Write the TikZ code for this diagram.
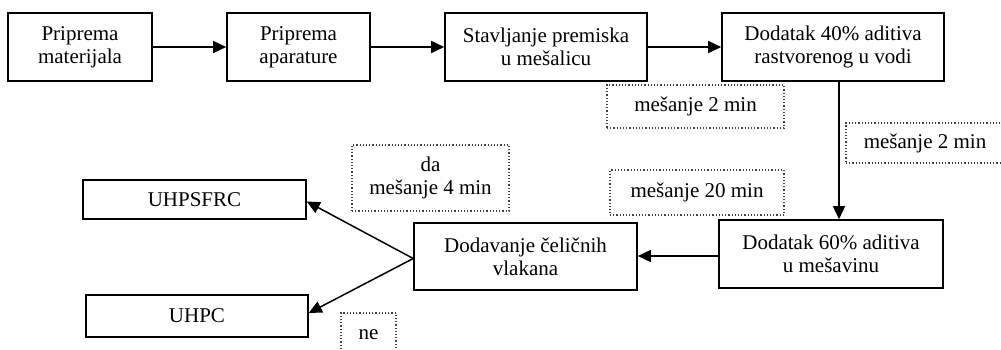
\documentclass[tikz,border=0pt]{standalone}
\usepackage{fontspec}
\setmainfont{Liberation Serif}
\usetikzlibrary{arrows.meta,positioning}

\begin{document}
\begin{tikzpicture}[x=0.5pt,y=-0.5pt,font=\fontsize{10.5}{11.6}\selectfont,box/.style={draw,line width=0.8pt,align=center,inner sep=0pt,minimum height=34pt},note/.style={draw=black!75,densely dotted,line width=0.6pt,align=center,inner sep=0pt},arr/.style={-{Triangle[length=6.5pt,width=6pt]},line width=0.75pt}]
\useasboundingbox (0,0) rectangle (1001,349);
\clip (0,0) rectangle (1001,349);
\node[box,minimum width=72pt] (mat) at (80,47) {Priprema\\materijala};
\node[box,minimum width=71.5pt] (apa) at (298.5,47) {Priprema\\aparature};
\node[box,minimum width=101pt] (pre) at (546,47) {Stavljanje premiska\\u mešalicu};
\node[box,minimum width=111pt] (ad40) at (833,47) {Dodatak 40\% aditiva\\rastvorenog u vodi};
\node[box,minimum width=112pt] (ad60) at (831,254) {Dodatak 60\% aditiva\\u mešavinu};
\node[box,minimum width=111.5pt,minimum height=33.5pt] (vla) at (525.5,256.5) {Dodavanje čeličnih\\vlakana};
\node[box,minimum width=111.5pt,minimum height=19.5pt] (frc) at (194.5,199.5) {UHPSFRC};
\node[box,minimum width=111pt,minimum height=21pt] (uhpc) at (197,316) {UHPC};
\node[note,minimum width=88.5pt,minimum height=21.5pt] (m2a) at (695.5,106.5) {mešanje 2 min};
\node[note,minimum width=79pt,minimum height=20pt] (m2b) at (925,143) {mešanje 2 min};
\node[note,minimum width=87pt,minimum height=22.5pt] (m20) at (697,192.5) {mešanje 20 min};
\node[note,minimum width=78.5pt,minimum height=33pt] (m4) at (430.5,178) {da\\mešanje 4 min};
\node[note,minimum width=27.5pt,minimum height=22pt] (ne) at (368.5,335) {ne};
\draw[arr] (mat.east) -- (apa.west);
\draw[arr] (apa.east) -- (pre.west);
\draw[arr] (pre.east) -- (ad40.west);
\draw[arr] ([xshift=3pt]ad40.south) -- ([xshift=3pt]ad40.south |- ad60.north);
\draw[arr] ([yshift=-1pt]ad60.west) -- ([yshift=-1pt]ad60.west -| vla.east);
\draw[arr] ([yshift=-1pt]vla.west) -- ([yshift=-1pt]frc.east);
\draw[arr] ([yshift=-1pt]vla.west) -- ([yshift=1.5pt]uhpc.east);
\end{tikzpicture}
\end{document}
